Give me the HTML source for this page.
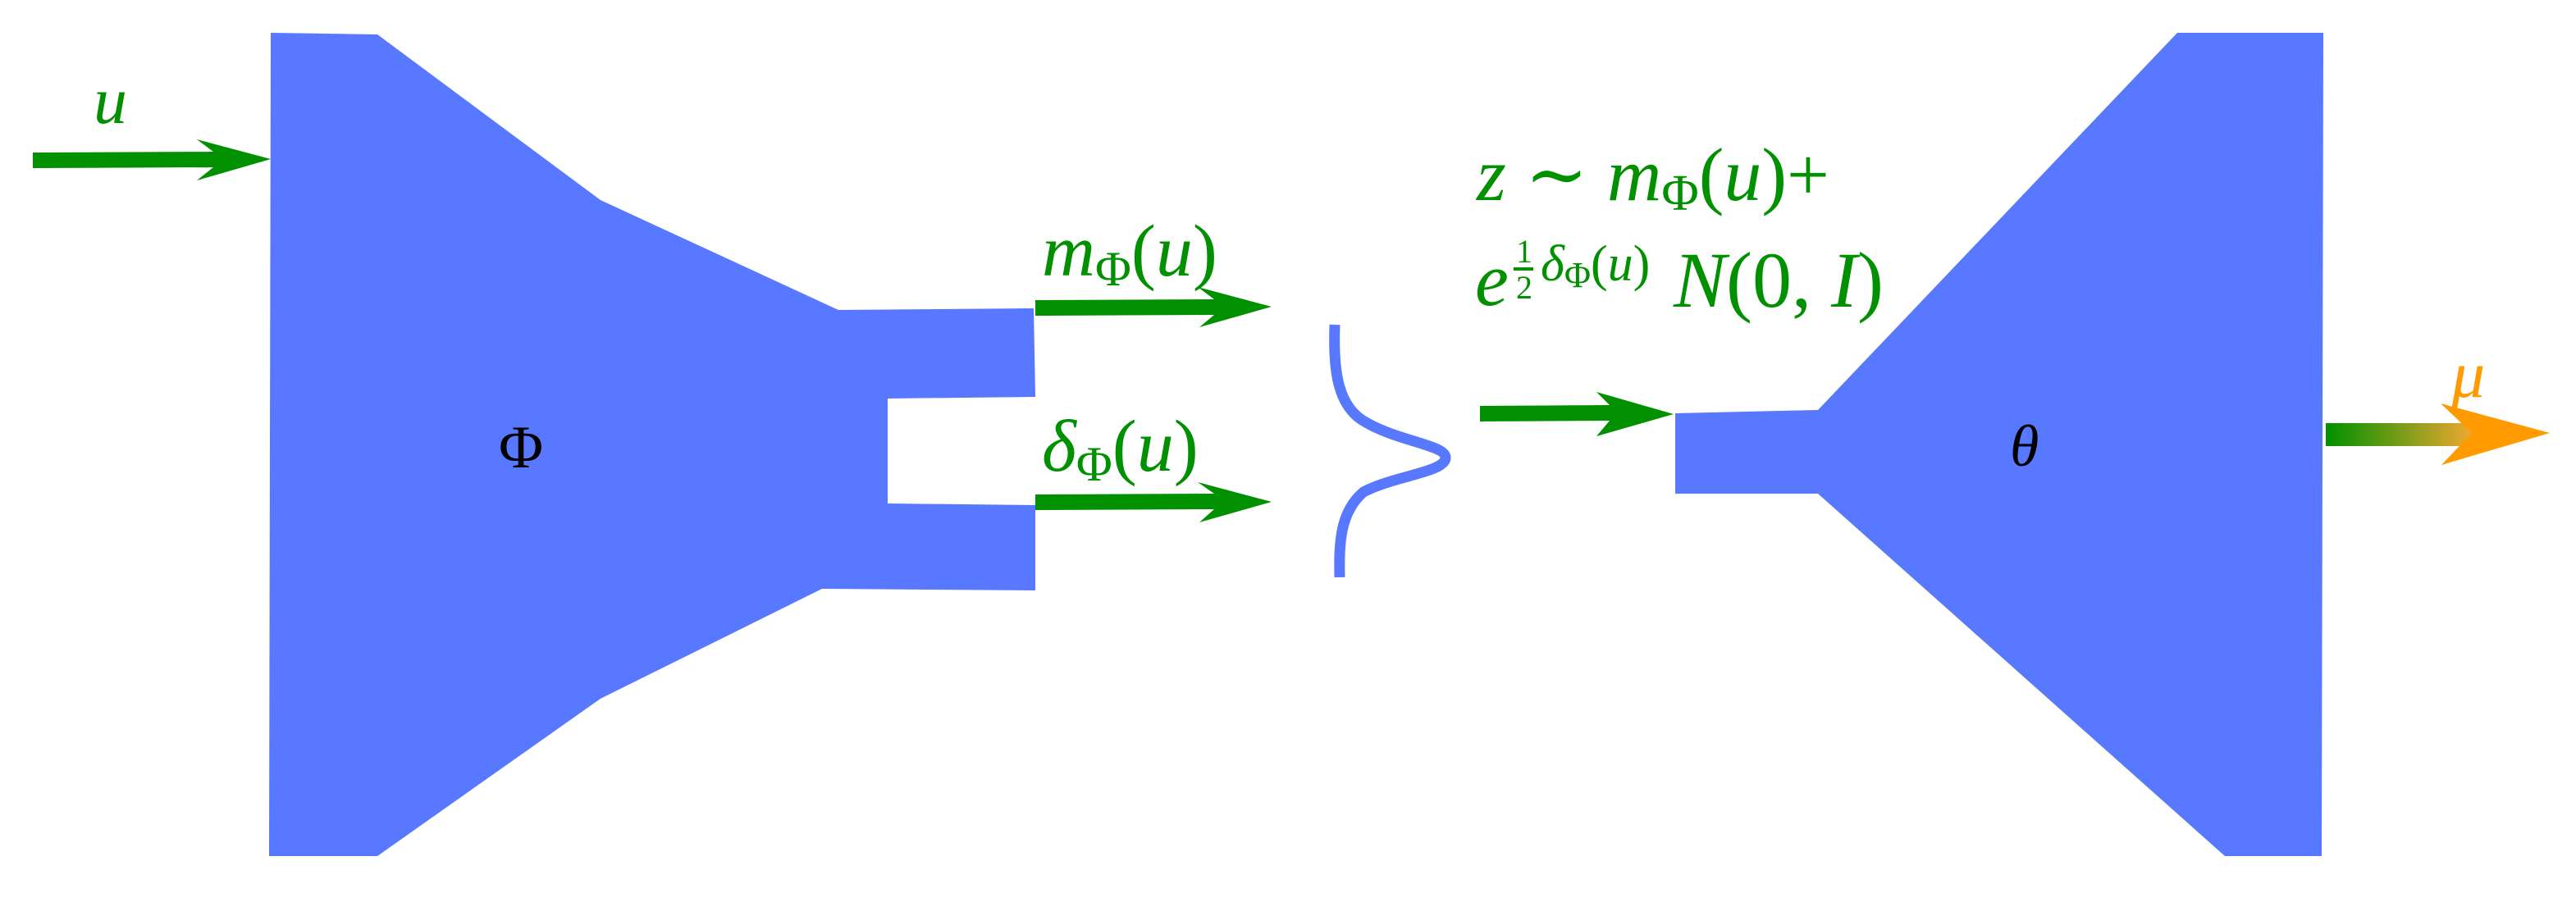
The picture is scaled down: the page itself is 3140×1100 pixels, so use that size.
<!DOCTYPE html>
<html><head><meta charset="utf-8"><style>
html,body{margin:0;padding:0;background:#fff;}
svg{display:block;}
</style></head><body>
<svg width="3140" height="1100" viewBox="0 0 3140 1100" xmlns="http://www.w3.org/2000/svg" font-family="'Liberation Serif','DejaVu Serif',serif">
<defs>
<linearGradient id="gr" x1="0" x2="1" y1="0" y2="0">
<stop offset="0" stop-color="#009000"/><stop offset="1" stop-color="#f0a830"/>
</linearGradient>
</defs>
<polygon fill="#5778ff" points="330,40 460,42 732,244 1022,378 1260,376 1262,484 1082,486 1082,614 1262,616 1262,720 1002,718 732,852 460,1044 328,1044"/>
<polygon fill="#5778ff" points="2042,504 2216,500 2654,40 2832,40 2830,1044 2712,1044 2216,602 2042,602"/>
<polygon fill="#009000" points="40,186 260,185 240,170 330,194 240,220 260,204 40,205"/>
<polygon fill="#009000" points="1262,366 1480,365 1460,350 1550,374 1462,399 1480,384 1262,385"/>
<polygon fill="#009000" points="1262,603 1480,602 1460,588 1550,612 1462,637 1480,621 1262,622"/>
<polygon fill="#009000" points="1804,495 1962,494 1946,478 2040,505 1946,532 1962,513 1804,514"/>
<rect x="2835" y="516" width="180" height="28" fill="url(#gr)"/>
<polygon fill="#ff9a00" points="2975,492 3108,528 2976,567 3013,528"/>
<path d="M1627,396 C1625,450 1630,492 1660,512 C1700,538 1762,542 1762,558 C1762,576 1700,580 1662,600 C1634,624 1632,660 1633,704" fill="none" stroke="#5778ff" stroke-width="13"/>
<g fill="#009000" font-style="italic">
<text x="114" y="150" font-size="82">u</text>
<text x="1270" y="336" font-size="90">m<tspan font-style="normal" font-size="60" dy="12">Φ</tspan><tspan font-style="normal" dy="-12">(</tspan>u<tspan font-style="normal">)</tspan></text>
<text x="1270" y="574" font-size="90">δ<tspan font-style="normal" font-size="60" dy="12">Φ</tspan><tspan font-style="normal" dy="-12">(</tspan>u<tspan font-style="normal">)</tspan></text>
<text x="1800" y="244" font-size="92">z <tspan font-style="normal">∼</tspan> m<tspan font-style="normal" font-size="62" dy="12">Φ</tspan><tspan font-style="normal" dy="-12">(</tspan>u<tspan font-style="normal">)+</tspan></text>
<text x="1798" y="372" font-size="92">e</text>
<text x="1878" y="342" font-size="62">δ<tspan font-style="normal" font-size="44" dy="8">Φ</tspan><tspan font-style="normal" dy="-8">(</tspan>u<tspan font-style="normal">)</tspan></text>
<text x="2040" y="374" font-size="96">N<tspan font-style="normal">(0, </tspan>I<tspan font-style="normal">)</tspan></text>
</g>
<text fill="#009000" x="1848" y="320" font-size="40">1</text>
<rect x="1845" y="326" width="24" height="4" fill="#009000"/>
<text fill="#009000" x="1848" y="364" font-size="40">2</text>
<text x="608" y="570" font-size="74">Φ</text>
<text x="2450" y="568" font-size="72" font-style="italic">θ</text>
<text x="2988" y="484" font-size="82" font-style="italic" fill="#ff9a00">μ</text>
</svg>
</body></html>
